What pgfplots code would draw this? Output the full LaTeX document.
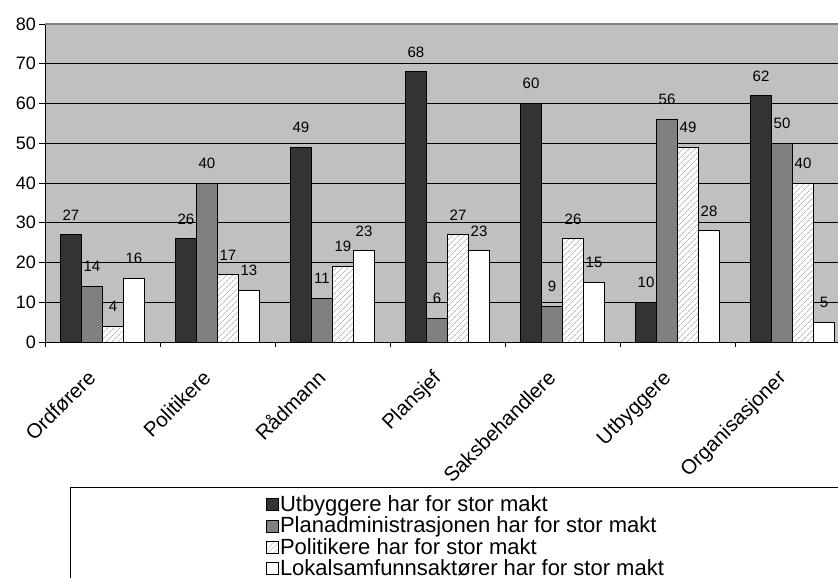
\documentclass[border=0pt]{standalone}
\usepackage{fontspec}
\setmainfont{Liberation Sans}
\usepackage{pgfplots}
\pgfplotsset{compat=1.18}
\usetikzlibrary{patterns.meta}

\definecolor{plotbg}{HTML}{C0C0C0}
\definecolor{darkbar}{HTML}{333333}
\definecolor{midbar}{HTML}{808080}
\definecolor{hatchline}{HTML}{B4B4B4}

\begin{document}
\begin{tikzpicture}[x=1pt,y=1pt]
\begin{axis}[
  at={(45pt,236pt)}, anchor=south west,
  scale only axis, width=805pt, height=318pt,
  xmin=-0.5, xmax=6.5, ymin=0, ymax=80,
  ybar=0pt, bar width=21pt,
  legend image code/.code={\draw[#1, line width=0.6pt] (0pt,-4.5pt) rectangle (12pt,7.5pt);},
  axis background/.style={fill=plotbg},
  axis x line*=bottom, axis y line*=left,
  axis line style={black, line width=0.8pt},
  tick align=outside, major tick length=5.5pt,
  tick style={black, line width=0.8pt},
  xtick={-0.5,0.5,...,6.5}, xticklabels={},
  extra x ticks={0,1,2,3,4,5,6},
  extra x tick labels={Ordførere,Politikere,Rådmann,Plansjef,Saksbehandlere,Utbyggere,Organisasjoner},
  extra x tick style={major tick length=0pt,
    xticklabel style={xshift=-5.5pt, yshift=-37pt, rotate=45, anchor=base east,
      font=\fontsize{20.5}{20.5}\selectfont, inner sep=0pt}},
  ytick={0,10,...,70},
  extra y ticks={80},
  extra y tick style={major grid style={draw=midbar, line width=1.2pt}},
  ymajorgrids, major grid style={black, line width=0.8pt},
  yticklabel style={font=\fontsize{18}{18}\selectfont},
  /pgf/number format/assume math mode=true,
  nodes near coords,
  nodes near coords style={font=\fontsize{15}{15}\selectfont, inner sep=0pt, anchor=south, yshift=14pt, black},
  legend style={at={(0.03106,-0.456)}, anchor=north west, draw=black, line width=0.8pt, fill=white,
    font=\fontsize{22}{22}\selectfont, inner xsep=196pt, inner ysep=8pt,
    row sep=0pt, nodes={inner ysep=0.15pt, inner xsep=1pt, text height=16pt, text depth=5pt},
    /tikz/every even column/.append style={column sep=4pt}},
  legend cell align=left,
]
\addplot[draw=black, line width=0.8pt, fill=darkbar]
  coordinates {(0,27) (1,26) (2,49) (3,68) (4,60) (5,10) (6,62)};
\addplot[draw=black, line width=0.8pt, fill=midbar]
  coordinates {(0,14) (1,40) (2,11) (3,6) (4,9) (5,56) (6,50)};
\addplot[draw=black, line width=0.8pt, preaction={fill=white},
  pattern={Lines[angle=45, distance=4pt, line width=0.7pt]}, pattern color=hatchline]
  coordinates {(0,4) (1,17) (2,19) (3,27) (4,26) (5,49) (6,40)};
\addplot[draw=black, line width=0.8pt, fill=white]
  coordinates {(0,16) (1,13) (2,23) (3,23) (4,15) (5,28) (6,5)};
\legend{Utbyggere har for stor makt,
  Planadministrasjonen har for stor makt,
  Politikere har for stor makt,
  Lokalsamfunnsaktører har for stor makt}
\end{axis}
\pgfresetboundingbox
\path[use as bounding box] (0,0) rectangle (838,578);
\end{tikzpicture}
\end{document}
